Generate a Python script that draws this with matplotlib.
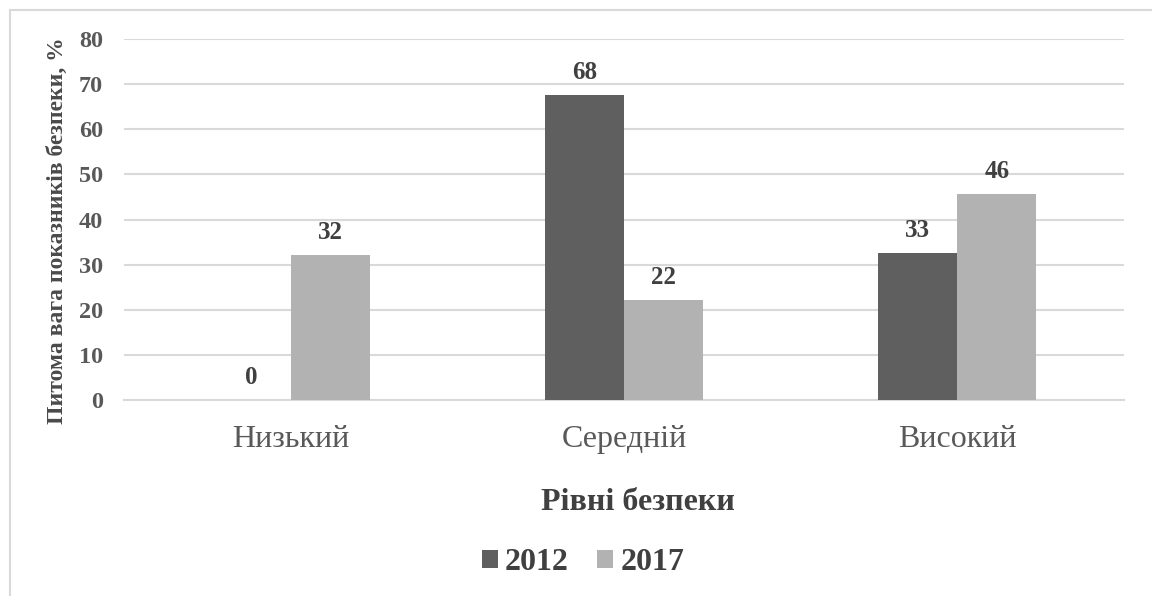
import matplotlib
matplotlib.use("Agg")
import matplotlib.pyplot as plt
from matplotlib.lines import Line2D
import numpy as np

plt.rcParams['font.family'] = ['Liberation Serif', 'DejaVu Serif']

categories = ["Низький", "Середній", "Високий"]
series_names = ["2012", "2017"]
values_2012 = [0, 67.6, 32.6]
values_2017 = [32.2, 22.2, 45.6]
yticks = [0, 10, 20, 30, 40, 50, 60, 70, 80]
colors = ["#5f5f5f", "#b2b2b2"]

W, H = 1152, 596
fig = plt.figure(figsize=(W / 100, H / 100), dpi=100)
ax = fig.add_axes([124 / W, 1 - 400 / H, 1000 / W, 361 / H])

x = np.arange(len(categories))
bw = 0.237
for i, (vals, name, col) in enumerate(zip([values_2012, values_2017], series_names, colors)):
    pos = x + (i - 0.5) * bw
    bars = ax.bar(pos, vals, width=bw, color=col, label=name, zorder=3)
    for b, v in zip(bars, vals):
        ax.annotate(f"{v:.0f}", (b.get_x() + b.get_width() / 2, v),
                    xytext=(0, 8), textcoords="offset points",
                    ha="center", va="bottom", fontsize=18, fontweight="bold",
                    color="#404040")

ax.set_xlim(-0.5, 2.5)
ax.set_ylim(0, 80)
ax.set_yticks(yticks)
ax.set_yticklabels([str(t) for t in yticks], fontsize=17.5, fontweight="bold", color="#595959")
ax.set_xticks(x)
ax.set_xticklabels(categories, fontsize=23, color="#595959")
ax.tick_params(axis="y", length=0, pad=15)
ax.tick_params(axis="x", length=0, pad=18)
ax.grid(axis="y", color="#d9d9d9", linewidth=1.5, zorder=0)
for s in ["top", "right", "left"]:
    ax.spines[s].set_visible(False)
ax.spines["bottom"].set_color("#d9d9d9")
ax.spines["bottom"].set_linewidth(1.5)

fig.text(57 / W, 1 - 231 / H, "Питома вага показників безпеки, %", rotation=90,
         ha="center", va="center", fontsize=17, fontweight="bold", color="#4a4a4a")
fig.text(638 / W, 1 - 502 / H, "Рівні безпеки", ha="center", va="center",
         fontsize=23, fontweight="bold", color="#404040")

leg = fig.legend(loc="center", bbox_to_anchor=(583 / W, 1 - 563 / H), ncol=2,
                 frameon=False, handlelength=0.5, handleheight=0.5,
                 handletextpad=0.22, columnspacing=0.9,
                 prop={"size": 23, "weight": "bold"})
for t in leg.get_texts():
    t.set_color("#404040")

# chart area frame (top and left edges visible)
fig.add_artist(Line2D([10 / W, 1], [1 - 10 / H, 1 - 10 / H], transform=fig.transFigure,
                      color="#d9d9d9", linewidth=1.5))
fig.add_artist(Line2D([10 / W, 10 / W], [0, 1 - 10 / H], transform=fig.transFigure,
                      color="#d9d9d9", linewidth=1.5))

fig.savefig("out.png", dpi=100)
